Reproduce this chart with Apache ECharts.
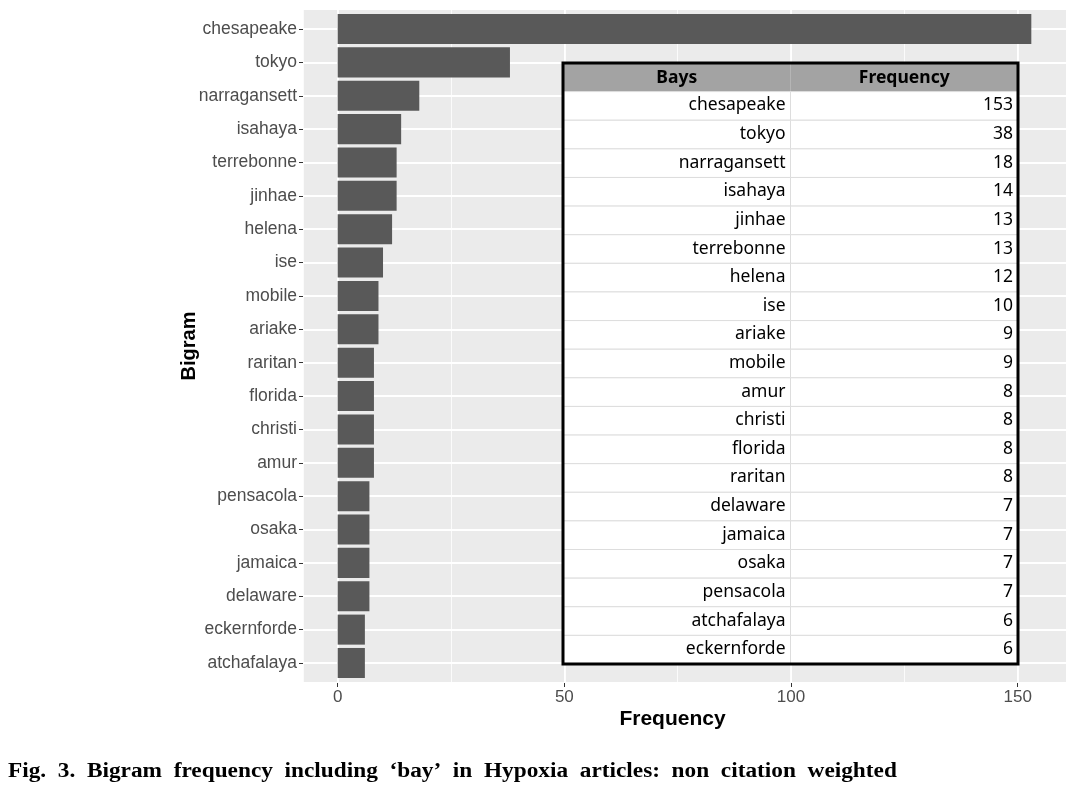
<!DOCTYPE html>
<html><head><meta charset="utf-8">
<script src="https://cdn.jsdelivr.net/npm/echarts@6/dist/echarts.min.js"></script>
<style>html,body{margin:0;padding:0;background:#fff}#c{width:1090px;height:790px}</style>
</head><body><div id="c"></div>
<script>
// Bar chart data (top to bottom)
const categories = ['chesapeake','tokyo','narragansett','isahaya','terrebonne','jinhae','helena','ise','mobile','ariake','raritan','florida','christi','amur','pensacola','osaka','jamaica','delaware','eckernforde','atchafalaya'];
const values = [153,38,18,14,13,13,12,10,9,9,8,8,8,8,7,7,7,7,6,6];
const xTicks = [0,50,100,150];
const xMinorTicks = [25,75,125];
// Inset table
const tableHeader = ['Bays','Frequency'];
const tableBays = ['chesapeake','tokyo','narragansett','isahaya','jinhae','terrebonne','helena','ise','ariake','mobile','amur','christi','florida','raritan','delaware','jamaica','osaka','pensacola','atchafalaya','eckernforde'];
const tableFreq = [153,38,18,14,13,13,12,10,9,9,8,8,8,8,7,7,7,7,6,6];
const xTitle = 'Frequency';
const yTitle = 'Bigram';
const captionWords = ['Fig.','3.','Bigram','frequency','including','\u2018bay\u2019','in','Hypoxia','articles:','non','citation','weighted'];

const maxV = Math.max(...values);
const xMin = -0.05 * maxV, xMax = maxV * 1.05;
const n = categories.length;

const PANEL = {left: 303, top: 9, width: 763, height: 674};
const band = PANEL.height / (n + 0.2);

const tableRows = ['header'].concat(tableBays);
const tableData = [];
for (let r = 0; r < tableRows.length; r++) for (let c = 0; c < 2; c++) tableData.push([c, r]);

const labelFont = 'Liberation Sans';
const chart = echarts.init(document.getElementById('c'), null, {renderer: 'canvas'});
chart.setOption({
  animation: false,
  backgroundColor: '#fff',
  graphic: [
    {type: 'text', x: 8, y: 762, scaleX: 1.165, silent: true,
     style: {text: captionWords.join('  '), fontFamily: 'Liberation Serif', fontWeight: 'bold', fontSize: 20,
             fill: '#000', align: 'left', verticalAlign: 'top'}}
  ],
  grid: [
    {left: PANEL.left, top: PANEL.top, width: PANEL.width, height: PANEL.height, show: true, backgroundColor: '#EBEBEB', borderWidth: 0, containLabel: false},
    {left: PANEL.left, top: PANEL.top + 0.1 * band, width: PANEL.width, height: band * n, containLabel: false},
    {left: 563, top: 63, width: 455, height: 601, show: true, backgroundColor: 'transparent', borderColor: '#000', borderWidth: 3, z: 10, containLabel: false}
  ],
  xAxis: [
    {type: 'value', gridIndex: 0, min: xMin, max: xMax, minInterval: 50, maxInterval: 50,
     axisLine: {show: false, onZero: false},
     axisTick: {show: true, length: 4, lineStyle: {color: '#333', width: 1}, customValues: xTicks},
     axisLabel: {show: true, customValues: xTicks, color: '#4D4D4D', fontSize: 17, fontFamily: labelFont, margin: 6},
     splitLine: {show: true, lineStyle: {color: '#fff', width: 1.8}},
     name: xTitle, nameLocation: 'middle', nameGap: 26, nameMoveOverlap: false,
     nameTextStyle: {fontFamily: labelFont, fontWeight: 'bold', fontSize: 21, color: '#000', padding: [0, 24, 0, 0]}},
    {type: 'value', gridIndex: 0, min: xMin, max: xMax, minInterval: 25, maxInterval: 25,
     axisLine: {show: false, onZero: false}, axisTick: {show: false}, axisLabel: {show: false},
     splitLine: {show: true, lineStyle: {color: '#fff', width: 0.8}}},
    {type: 'value', gridIndex: 1, min: xMin, max: xMax, show: false, axisLine: {onZero: false}, splitLine: {show: false}},
    {type: 'category', gridIndex: 2, data: tableHeader, show: false}
  ],
  yAxis: [
    {type: 'value', gridIndex: 0, min: -0.6, max: n - 1 + 0.6, inverse: true, minInterval: 1, maxInterval: 1,
     axisLine: {show: false, onZero: false}, axisTick: {show: false}, axisLabel: {show: false},
     splitLine: {show: true, lineStyle: {color: '#fff', width: 1.8}}},
    {type: 'category', gridIndex: 1, data: categories, inverse: true,
     axisLine: {show: false, onZero: false},
     axisTick: {show: true, alignWithLabel: true, length: 4, lineStyle: {color: '#333', width: 1}},
     axisLabel: {color: '#4D4D4D', fontSize: 17.5, fontFamily: labelFont, margin: 6},
     splitLine: {show: false},
     name: yTitle, nameLocation: 'middle', nameGap: 104, nameRotate: 90, nameMoveOverlap: false,
     nameTextStyle: {fontFamily: labelFont, fontWeight: 'bold', fontSize: 20, color: '#000'}},
    {type: 'category', gridIndex: 2, data: tableRows, inverse: true, show: false}
  ],
  series: [
    {type: 'bar', xAxisIndex: 2, yAxisIndex: 1, data: values, barCategoryGap: '10%',
     itemStyle: {color: '#595959'}, silent: true},
    {type: 'custom', xAxisIndex: 3, yAxisIndex: 2, data: tableData, z: 5, silent: true,
     renderItem: function (params, api) {
       const c = api.value(0), r = api.value(1);
       const p = api.coord([c, r]);
       const s = api.size([1, 1]);
       const x0 = p[0] - s[0] / 2, y0 = p[1] - s[1] / 2;
       const header = r === 0;
       const txt = header ? tableHeader[c] : (c === 0 ? tableBays[r - 1] : String(tableFreq[r - 1]));
       return {type: 'group', children: [
         {type: 'rect', shape: {x: x0, y: y0, width: s[0], height: s[1]},
          style: {fill: header ? '#A3A3A3' : '#fff', stroke: header ? '#B5B5B5' : '#DDDDDD', lineWidth: 1}},
         {type: 'text', style: {text: txt, x: header ? p[0] : x0 + s[0] - 5, y: header ? p[1] + 1 : p[1] - 0.5,
           align: header ? 'center' : 'right', verticalAlign: 'middle',
           fontFamily: 'Noto Sans', fontSize: 17.5, fontWeight: header ? 'bold' : 'normal', fill: '#000'}}
       ]};
     }}
  ]
});
</script></body></html>
